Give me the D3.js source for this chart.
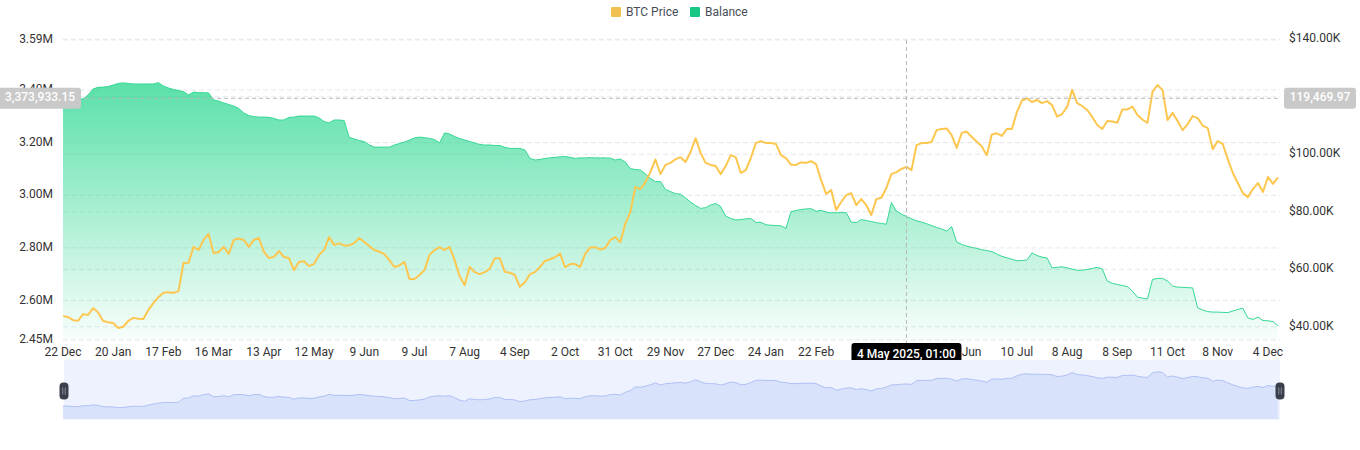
<!DOCTYPE html>
<html lang="en">
<head>
<meta charset="utf-8">
<style>
  body { margin: 0; background: #fff; }
  text { font-family: Roboto, "Noto Sans", sans-serif; }
</style>
</head>
<body>
<script src="https://d3js.org/d3.v7.min.js"></script>
<script>
// BTC price in thousands of USD, one point per category step
const btcPriceK = [
  43.7, 43.4, 42.3, 42.1, 44.4, 44.1, 46.5, 45.0, 42.0, 41.6,
  41.3, 39.6, 40.0, 42.0, 43.1, 42.8, 42.7, 45.8, 48.2, 50.3,
  51.8, 52.0, 51.8, 52.4, 62.2, 62.3, 67.8, 66.7, 70.2, 72.3,
  65.6, 66.0, 67.8, 65.3, 70.2, 70.7, 70.2, 67.8, 70.2, 70.9,
  66.1, 63.9, 64.3, 66.3, 64.3, 63.9, 59.7, 62.5, 62.8, 61.1,
  61.8, 65.0, 66.7, 71.2, 68.5, 69.0, 68.3, 68.3, 69.1, 70.9,
  69.5, 68.1, 66.7, 66.1, 65.3, 63.2, 60.8, 61.3, 62.6, 56.6,
  56.6, 58.0, 59.7, 65.0, 66.7, 67.7, 66.7, 67.8, 63.2, 57.6,
  54.5, 60.8, 59.0, 58.3, 59.0, 60.2, 63.8, 63.8, 59.1, 58.8,
  58.0, 53.9, 55.5, 58.3, 59.0, 60.8, 62.9, 63.5, 64.2, 65.5,
  60.7, 61.8, 61.8, 60.8, 65.3, 67.6, 67.7, 66.9, 67.4, 70.2,
  71.2, 69.4, 75.9, 79.9, 88.6, 87.9, 90.3, 93.8, 98.2, 93.1,
  96.3, 97.0, 98.3, 99.0, 97.3, 100.8, 105.6, 100.4, 97.0, 96.3,
  95.9, 93.1, 95.9, 99.7, 99.0, 93.5, 94.5, 98.7, 103.9, 104.6,
  103.9, 103.9, 103.6, 99.7, 98.7, 96.4, 96.3, 97.2, 97.0, 97.6,
  96.6, 91.0, 86.2, 87.6, 80.6, 83.4, 85.8, 86.5, 82.3, 84.4,
  82.3, 78.9, 84.4, 84.9, 88.3, 93.1, 93.8, 94.9, 95.6, 94.5,
  103.2, 103.9, 103.9, 104.3, 108.4, 108.8, 109.0, 106.7, 102.2, 107.4,
  107.9, 106.0, 104.4, 102.7, 99.7, 106.9, 107.3, 106.4, 108.8, 108.8,
  114.7, 118.7, 119.4, 118.2, 118.9, 117.8, 118.5, 117.1, 113.1, 114.0,
  116.5, 122.4, 117.8, 116.8, 115.4, 113.0, 110.2, 108.8, 111.6, 111.4,
  111.0, 115.6, 115.6, 116.6, 113.7, 112.1, 110.9, 121.7, 124.1, 122.4,
  111.9, 114.4, 111.6, 108.4, 110.5, 113.3, 112.6, 110.0, 109.1, 101.8,
  104.6, 103.6, 98.3, 93.5, 90.0, 86.5, 85.1, 87.9, 90.0, 86.9,
  92.1, 89.7, 92.0
];

// Balance in millions
const balanceM = [
  3.366, 3.366, 3.366, 3.366, 3.366, 3.381, 3.404, 3.410, 3.411, 3.413,
  3.419, 3.425, 3.427, 3.425, 3.423, 3.423, 3.423, 3.423, 3.423, 3.428,
  3.415, 3.408, 3.402, 3.398, 3.394, 3.381, 3.392, 3.390, 3.390, 3.389,
  3.362, 3.358, 3.351, 3.345, 3.339, 3.330, 3.313, 3.303, 3.299, 3.297,
  3.297, 3.296, 3.292, 3.286, 3.286, 3.296, 3.297, 3.301, 3.301, 3.301,
  3.301, 3.294, 3.280, 3.275, 3.286, 3.286, 3.284, 3.220, 3.214, 3.208,
  3.204, 3.191, 3.183, 3.183, 3.183, 3.183, 3.191, 3.197, 3.202, 3.210,
  3.218, 3.221, 3.219, 3.216, 3.212, 3.199, 3.237, 3.233, 3.223, 3.216,
  3.210, 3.204, 3.199, 3.193, 3.191, 3.191, 3.189, 3.189, 3.182, 3.178,
  3.178, 3.178, 3.172, 3.140, 3.134, 3.136, 3.140, 3.142, 3.144, 3.146,
  3.147, 3.144, 3.140, 3.142, 3.142, 3.143, 3.142, 3.142, 3.142, 3.141,
  3.134, 3.138, 3.126, 3.101, 3.098, 3.096, 3.081, 3.064, 3.052, 3.052,
  3.022, 3.014, 3.006, 3.004, 2.990, 2.974, 2.961, 2.950, 2.953, 2.963,
  2.969, 2.957, 2.921, 2.912, 2.906, 2.908, 2.910, 2.912, 2.897, 2.897,
  2.888, 2.886, 2.885, 2.884, 2.874, 2.938, 2.942, 2.946, 2.948, 2.949,
  2.939, 2.943, 2.936, 2.933, 2.934, 2.934, 2.934, 2.898, 2.896, 2.908,
  2.904, 2.900, 2.896, 2.893, 2.890, 2.972, 2.940, 2.929, 2.919, 2.911,
  2.903, 2.898, 2.892, 2.885, 2.878, 2.872, 2.864, 2.881, 2.822, 2.813,
  2.807, 2.802, 2.798, 2.793, 2.790, 2.786, 2.777, 2.768, 2.762, 2.757,
  2.751, 2.752, 2.754, 2.781, 2.771, 2.765, 2.762, 2.724, 2.726, 2.728,
  2.724, 2.719, 2.715, 2.715, 2.718, 2.722, 2.726, 2.720, 2.674, 2.665,
  2.661, 2.657, 2.653, 2.636, 2.613, 2.609, 2.606, 2.680, 2.684, 2.684,
  2.674, 2.655, 2.651, 2.650, 2.649, 2.648, 2.572, 2.564, 2.558, 2.556,
  2.556, 2.555, 2.554, 2.560, 2.566, 2.571, 2.534, 2.528, 2.537, 2.524,
  2.523, 2.520, 2.503
];

// one label every 10 points
const dateLabels = ["22 Dec", "20 Jan", "17 Feb", "16 Mar", "13 Apr", "12 May", "9 Jun", "9 Jul",
  "7 Aug", "4 Sep", "2 Oct", "31 Oct", "29 Nov", "27 Dec", "24 Jan", "22 Feb", "3 Apr", "6 May",
  "7 Jun", "10 Jul", "8 Aug", "8 Sep", "11 Oct", "8 Nov", "4 Dec"];
const labelStep = 10;

const leftTicks = [2.45, 2.6, 2.8, 3.0, 3.2, 3.4, 3.59];
const rightTicks = [40, 60, 80, 100, 120, 140];

// hover state shown in the picture
const hoverIndex = 168;
const hoverDate = "4 May 2025, 01:00";
const hoverBalance = 3373933.15;
const hoverPrice = 119469.97;

const width = 1360, height = 450;
const plotLeft = 63, plotRight = 1280, plotTop = 40, plotBottom = 340;

const svg = d3.select("body").append("svg")
  .attr("width", width)
  .attr("height", height);

const x = d3.scaleLinear().domain([0, btcPriceK.length - 0.6]).range([plotLeft, plotRight]);
const yL = d3.scaleLinear().domain([2.45, 3.59]).range([plotBottom, plotTop]);
const yR = d3.scaleLinear().domain([35.4, 140]).range([plotBottom, 39.3]);
const ySlider = d3.scaleLinear().domain([12.3, 152]).range([419.3, 360]);

// gradient for balance area
const defs = svg.append("defs");
const grad = defs.append("linearGradient").attr("id", "balGrad")
  .attr("x1", 0).attr("y1", 0).attr("x2", 0).attr("y2", 1);
grad.append("stop").attr("offset", "0%").attr("stop-color", "rgb(35,214,140)").attr("stop-opacity", 0.75);
grad.append("stop").attr("offset", "100%").attr("stop-color", "rgb(35,214,140)").attr("stop-opacity", 0.03);

// grid lines from both axes
const grid = svg.append("g");
grid.selectAll(".gl").data(leftTicks).join("line")
  .attr("x1", plotLeft).attr("x2", plotRight)
  .attr("y1", d => yL(d)).attr("y2", d => yL(d))
  .attr("stroke", "#e6e7e9").attr("stroke-dasharray", "5,3");
grid.selectAll(".gr").data(rightTicks).join("line")
  .attr("x1", plotLeft).attr("x2", plotRight)
  .attr("y1", d => yR(d)).attr("y2", d => yR(d))
  .attr("stroke", "#e6e7e9").attr("stroke-dasharray", "5,3");

// balance area + line
const area = d3.area()
  .x((d, i) => x(i))
  .y0(plotBottom)
  .y1(d => yL(d));
svg.append("path").datum(balanceM)
  .attr("d", area)
  .attr("fill", "url(#balGrad)");
svg.append("path").datum(balanceM)
  .attr("d", d3.line().x((d, i) => x(i)).y(d => yL(d)))
  .attr("fill", "none")
  .attr("stroke", "#34d894")
  .attr("stroke-width", 1);

// btc price line
svg.append("path").datum(btcPriceK)
  .attr("d", d3.line().x((d, i) => x(i)).y(d => yR(d)))
  .attr("fill", "none")
  .attr("stroke", "#fdc74f")
  .attr("stroke-width", 2)
  .attr("stroke-linejoin", "round");

// crosshair
const hx = x(hoverIndex);
const hy = yR(hoverPrice / 1000);
svg.append("line")
  .attr("x1", hx).attr("x2", hx).attr("y1", plotTop).attr("y2", 344)
  .attr("stroke", "#b8b8b8").attr("stroke-dasharray", "4,3");
svg.append("line")
  .attr("x1", plotLeft).attr("x2", plotRight).attr("y1", hy).attr("y2", hy)
  .attr("stroke", "#b8b8b8").attr("stroke-dasharray", "4,3");

// x labels
svg.selectAll(".xl").data(dateLabels).join("text")
  .attr("x", (d, i) => x(i * labelStep))
  .attr("y", 353)
  .attr("text-anchor", "middle")
  .attr("dominant-baseline", "middle")
  .attr("font-size", 12)
  .attr("fill", "#333")
  .text(d => d);

// left axis labels
svg.selectAll(".yl").data(leftTicks).join("text")
  .attr("x", 53)
  .attr("y", d => yL(d))
  .attr("text-anchor", "end")
  .attr("dominant-baseline", "middle")
  .attr("font-size", 12)
  .attr("fill", "#333")
  .text(d => d.toFixed(2) + "M");

// right axis labels
svg.selectAll(".yr").data(rightTicks).join("text")
  .attr("x", 1289)
  .attr("y", d => yR(d))
  .attr("dominant-baseline", "middle")
  .attr("font-size", 12)
  .attr("fill", "#333")
  .text(d => "$" + d.toFixed(2) + "K");

// crosshair labels
const fmt = d3.format(",.2f");
svg.append("rect").attr("x", -4).attr("y", hy - 10.5).attr("width", 85).attr("height", 21)
  .attr("rx", 3).attr("fill", "#c9c9c9");
svg.append("text").attr("x", 40).attr("y", hy).attr("text-anchor", "middle")
  .attr("dominant-baseline", "middle").attr("font-size", 12).attr("font-weight", 500)
  .attr("fill", "#fff").text(fmt(hoverBalance));

svg.append("rect").attr("x", 1284).attr("y", hy - 10.5).attr("width", 72).attr("height", 21)
  .attr("rx", 3).attr("fill", "#c9c9c9");
svg.append("text").attr("x", 1320).attr("y", hy).attr("text-anchor", "middle")
  .attr("dominant-baseline", "middle").attr("font-size", 12).attr("font-weight", 500)
  .attr("fill", "#fff").text(fmt(hoverPrice));

svg.append("rect").attr("x", hx - 55).attr("y", 343).attr("width", 110).attr("height", 22)
  .attr("rx", 3).attr("fill", "#000");
svg.append("text").attr("x", hx).attr("y", 354.5).attr("text-anchor", "middle")
  .attr("dominant-baseline", "middle").attr("font-size", 12).attr("font-weight", 500)
  .attr("fill", "#fff").text(hoverDate);

// legend
const legend = [
  { name: "BTC Price", color: "#f0c050", x: 611 },
  { name: "Balance", color: "#17c784", x: 690 }
];
const lg = svg.selectAll(".lg").data(legend).join("g");
lg.append("rect").attr("x", d => d.x).attr("y", 7).attr("width", 10).attr("height", 10)
  .attr("rx", 1).attr("fill", d => d.color);
lg.append("text").attr("x", d => d.x + 15).attr("y", 12.5)
  .attr("dominant-baseline", "middle").attr("font-size", 12).attr("fill", "#474d57")
  .text(d => d.name);

// data zoom slider
svg.append("rect").attr("x", plotLeft + 1).attr("y", 360).attr("width", plotRight - plotLeft - 1).attr("height", 59.3)
  .attr("fill", "#eef2fe");
svg.append("path").datum(btcPriceK)
  .attr("d", d3.area().x((d, i) => x(i)).y0(419.3).y1(d => ySlider(d)))
  .attr("fill", "#d9e2fb");
svg.append("path").datum(btcPriceK)
  .attr("d", d3.line().x((d, i) => x(i)).y(d => ySlider(d)))
  .attr("fill", "none").attr("stroke", "#afc1f4").attr("stroke-width", 1);

const handles = svg.selectAll(".hd").data([plotLeft + 1, plotRight]).join("g")
  .attr("transform", d => `translate(${d},391)`);
handles.append("rect").attr("x", -4.5).attr("y", -8.5).attr("width", 9).attr("height", 17)
  .attr("rx", 4).attr("fill", "#3b3f4c");
handles.selectAll("line").data([-1.2, 1.2]).join("line")
  .attr("x1", d => d).attr("x2", d => d).attr("y1", -3.5).attr("y2", 3.5)
  .attr("stroke", "#9aa0ad").attr("stroke-width", 0.8);
</script>
</body>
</html>
